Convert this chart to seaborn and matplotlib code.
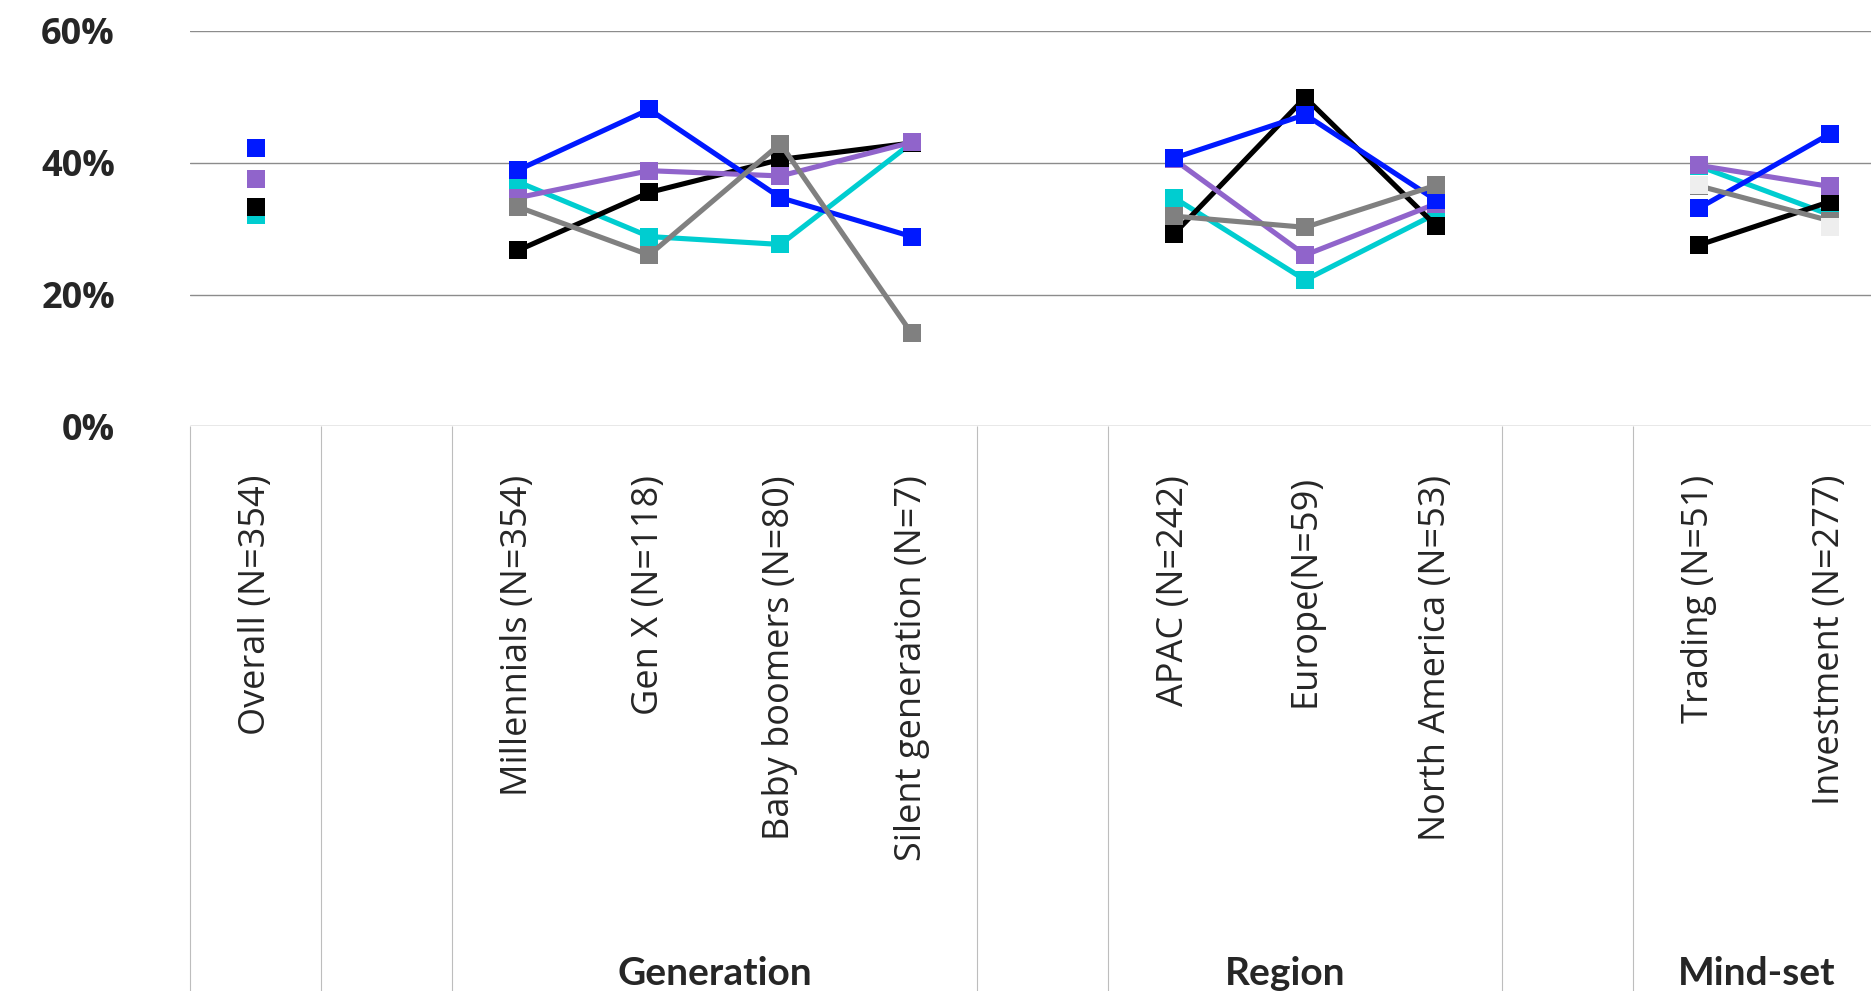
import numpy as np
import pandas as pd
import matplotlib
matplotlib.use("Agg")
import matplotlib.pyplot as plt
import seaborn as sns
from matplotlib.transforms import blended_transform_factory

# ---------------- data ----------------
categories = ["Overall (N=354)", "", "Millennials (N=354)", "Gen X (N=118)",
              "Baby boomers (N=80)", "Silent generation (N=7)", "",
              "APAC (N=242)", "Europe(N=59)", "North America (N=53)", "",
              "Trading (N=51)", "Investment (N=277)"]
groups = ["Overall", "", "Generation", "Generation", "Generation", "Generation", "",
          "Region", "Region", "Region", "", "Mind-set", "Mind-set"]
group_labels = ["Generation", "Region", "Mind-set"]

blue   = [42.2, None, 38.9, 48.1, 34.7, 28.8, None, 40.7, 47.3, 34.3, None, 33.1, 44.4]
purple = [37.6, None, 34.7, 38.8, 38.0, 43.1, None, 40.5, 26.0, 33.8, None, 39.6, 36.4]
cyan   = [32.1, None, 37.1, 28.8, 27.6, 43.0, None, 34.7, 22.2, 32.3, None, 39.5, 32.1]
black  = [33.3, None, 26.7, 35.5, 40.5, 43.0, None, 29.2, 49.9, 30.4, None, 27.5, 34.1]
grey   = [None, None, 33.3, 26.0, 42.9, 14.1, None, 31.9, 30.2, 36.6, None, 36.5, 31.2]
light  = [None, None, None, None, None, None, None, None, None, None, None, 36.6, 30.3]

series = {"Series A": blue, "Series B": purple, "Series C": cyan,
          "Series D": black, "Series E": grey, "Series F": light}
colors = {"Series A": "#0019FF", "Series B": "#9064CB", "Series C": "#00CDD0",
          "Series D": "#000000", "Series E": "#808080", "Series F": "#EEEEEE"}
draw_order = ["Series C", "Series D", "Series B", "Series A", "Series E"]

rows = []
for name, vals in series.items():
    for i, (g, v) in enumerate(zip(groups, vals)):
        if v is None:
            continue
        rows.append(dict(pos=i, value=v, series=name, group=g))
df = pd.DataFrame(rows)

# ---------------- figure ----------------
sns.set_theme(style="white")
plt.rcParams['font.family'] = ['Open Sans', 'DejaVu Sans']

W, H = 1871, 991
fig = plt.figure(figsize=(W / 100, H / 100), dpi=100)
left_px, top_px, bottom_px, slot_px = 190, 31, 426.3, 131.2
ax = fig.add_axes([left_px / W, 1 - bottom_px / H,
                   len(categories) * slot_px / W, (bottom_px - top_px) / H])

for g in ["Overall", "Generation", "Region", "Mind-set"]:
    sub = df[(df.group == g) & (df.series != "Series F")]
    sns.lineplot(data=sub, x="pos", y="value", hue="series", hue_order=draw_order,
                 palette=colors, marker="s", markersize=12.4, markeredgewidth=0,
                 linewidth=3.7, legend=False, estimator=None, ax=ax)

sub = df[df.series == "Series F"]
sns.scatterplot(data=sub, x="pos", y="value", color=colors["Series F"], marker="s",
                s=12.4 ** 2, linewidth=0, legend=False, zorder=4, ax=ax)

ax.set_xlim(-0.5, len(categories) - 0.5)
ax.set_ylim(0, 60)
ax.set_yticks([0, 20, 40, 60])
ax.set_yticklabels([f"{v}%" for v in [0, 20, 40, 60]], fontsize=26, fontweight="bold")
tick_pos = [i for i, c in enumerate(categories) if c]
ax.set_xticks(tick_pos)
ax.set_xticklabels([categories[i] for i in tick_pos], rotation=90, fontsize=26,
                   va="top", ha="center")
ax.tick_params(axis="x", length=0, pad=35)
ax.tick_params(axis="y", length=0, pad=54)
ax.set_xlabel("")
ax.set_ylabel("")
for s in ax.spines.values():
    s.set_visible(False)
ax.yaxis.grid(True, color="#8c8c8c", linewidth=1.0)
ax.xaxis.grid(False)
ax.set_axisbelow(True)

# category separators below the axis
trans = blended_transform_factory(ax.transData, ax.transAxes)
bounds = [-0.5]
for i in range(len(categories) - 1):
    if categories[i] == "" or categories[i + 1] == "":
        bounds.append(i + 0.5)
bottom_axes = -(H - bottom_px) / (bottom_px - top_px)
ax.vlines(bounds, bottom_axes, 0, transform=trans, colors="#bdbdbd",
          linewidth=0.8, clip_on=False)

# group labels
group_label_x = [3.5, 7.85, 11.44]
for lbl, x in zip(group_labels, group_label_x):
    ax.text(x, -(985 - bottom_px) / (bottom_px - top_px), lbl, transform=trans,
            ha="center", va="baseline", fontsize=28, fontweight="bold",
            family=["Lato", "DejaVu Sans"])

fig.savefig("out.png", dpi=100)
